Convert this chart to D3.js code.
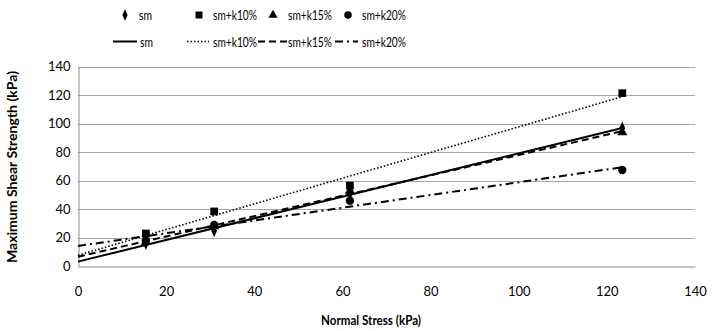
<!DOCTYPE html>
<html><head><meta charset="utf-8">
<script src="https://cdn.jsdelivr.net/npm/d3@7"></script>
<style>body{margin:0;background:#fff}svg{display:block}</style>
</head><body><svg id="c" width="723" height="331"></svg>
<script>
const normalStress = [15.4, 30.9, 61.7, 123.5];
const seriesNames = ["sm", "sm+k10%", "sm+k15%", "sm+k20%"];
const sm    = [16, 25, 51, 97];
const smK10 = [23, 38.5, 56.6, 121.5];
const smK15 = [17, 28, 53, 94];
const smK20 = [18, 29, 46, 67.6];
const xTicks = [0, 20, 40, 60, 80, 100, 120, 140];
const yTicks = [0, 20, 40, 60, 80, 100, 120, 140];

const seriesValues = [sm, smK10, smK15, smK20];
const markers = [d3.symbolDiamond, d3.symbolSquare, d3.symbolTriangle, d3.symbolCircle];
const markerSizes = [40, 60, 45, 55];
const dashes = [null, "1.5,2", "7,4", "8,4,2,4"];
const widths = [2, 1.6, 2, 2];

const svg = d3.select("#c");
const x = d3.scaleLinear().domain([0, 140]).range([78, 695]);
const y = d3.scaleLinear().domain([0, 140]).range([266.3, 66.8]);
const font = "Lato, 'Open Sans', sans-serif";

// gridlines
svg.append("g").selectAll("line").data(yTicks.filter(d => d > 0)).join("line")
  .attr("x1", x(0)).attr("x2", x(140))
  .attr("y1", d => Math.round(y(d)) + 0.5).attr("y2", d => Math.round(y(d)) + 0.5)
  .attr("stroke", "#a6a6a6").attr("stroke-width", 1);

// axes
const xAxis = svg.append("g").attr("transform", `translate(0,${Math.round(y(0)) + 0.5})`)
  .call(d3.axisBottom(x).tickValues(xTicks).tickSize(0).tickPadding(20));
const yAxis = svg.append("g").attr("transform", `translate(${Math.round(x(0)) + 0.5},0)`)
  .call(d3.axisLeft(y).tickValues(yTicks).tickSize(0).tickPadding(8));
[xAxis, yAxis].forEach(a => {
  a.select(".domain").attr("stroke", "#8c8c8c");
  a.selectAll("text").attr("font-family", font).attr("font-size", 13).attr("fill", "#000");
});

// trendlines (least squares from data)
function fit(xs, ys) {
  const mx = d3.mean(xs), my = d3.mean(ys);
  let sxy = 0, sxx = 0;
  xs.forEach((v, i) => { sxy += (v - mx) * (ys[i] - my); sxx += (v - mx) ** 2; });
  const b = sxy / sxx; return { a: my - b * mx, b };
}
seriesValues.forEach((vals, i) => {
  const f = fit(normalStress, vals);
  const x1 = d3.max(normalStress);
  svg.append("line")
    .attr("x1", x(0)).attr("y1", y(f.a))
    .attr("x2", x(x1)).attr("y2", y(f.a + f.b * x1))
    .attr("stroke", "#000").attr("stroke-width", widths[i])
    .attr("stroke-dasharray", dashes[i]);
});

// markers
seriesValues.forEach((vals, i) => {
  svg.append("g").selectAll("path").data(vals).join("path")
    .attr("d", d3.symbol().type(markers[i]).size(markerSizes[i]))
    .attr("transform", (d, j) => `translate(${x(normalStress[j])},${y(d)})` + (i === 0 ? " scale(0.85,1.1)" : ""))
    .attr("fill", "#000");
});

// legend
const lg = svg.append("g").attr("font-family", font).attr("font-size", 14);
const textLen = [13, 44, 44, 44];
const row1 = [[125, 139], [199, 213], [273, 288], [348, 362]];
seriesNames.forEach((n, i) => {
  lg.append("path").attr("d", d3.symbol().type(markers[i]).size(markerSizes[i] * 0.8)())
    .attr("transform", `translate(${row1[i][0]},15)` + (i === 0 ? " scale(0.85,1.1)" : ""));
  lg.append("text").attr("x", row1[i][1]).attr("y", 20).attr("textLength", textLen[i])
    .attr("lengthAdjust", "spacingAndGlyphs").text(n);
});
const row2 = [[113, 137, 140], [187, 209, 213], [258, 287, 288], [335, 358, 362]];
seriesNames.forEach((n, i) => {
  lg.append("line").attr("x1", row2[i][0]).attr("x2", row2[i][1]).attr("y1", 41.5).attr("y2", 41.5)
    .attr("stroke", "#000").attr("stroke-width", widths[i]).attr("stroke-dasharray", dashes[i]);
  lg.append("text").attr("x", row2[i][2]).attr("y", 46.5).attr("textLength", textLen[i])
    .attr("lengthAdjust", "spacingAndGlyphs").text(n);
});

// axis titles
svg.append("text").attr("x", 371).attr("y", 325).attr("text-anchor", "middle")
  .attr("font-family", font).attr("font-size", 13).attr("font-weight", "bold")
  .attr("textLength", 100).attr("lengthAdjust", "spacingAndGlyphs").text("Normal Stress (kPa)");
svg.append("text").attr("transform", "translate(17,167) rotate(-90)").attr("text-anchor", "middle")
  .attr("font-family", font).attr("font-size", 13).attr("font-weight", "bold")
  .attr("textLength", 192).attr("lengthAdjust", "spacingAndGlyphs").text("Maximum Shear Strength (kPa)");
</script></body></html>
